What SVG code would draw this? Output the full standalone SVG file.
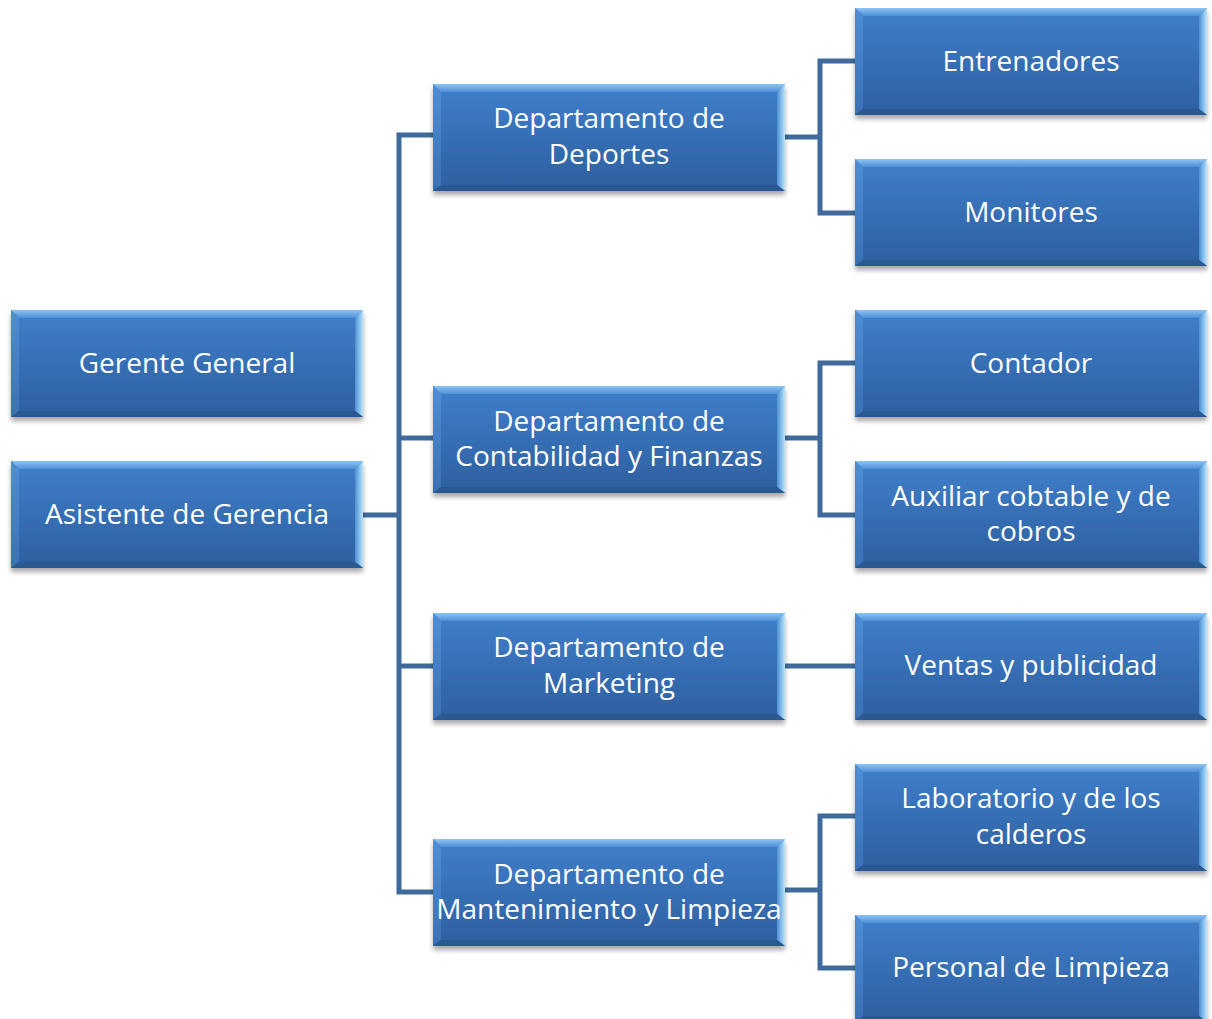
<svg xmlns="http://www.w3.org/2000/svg" xmlns:xlink="http://www.w3.org/1999/xlink" width="1212" height="1019" viewBox="0 0 1212 1019">
<style>
.t{font-family:"Open Sans","Liberation Sans",sans-serif;font-size:28px;fill:#ffffff;text-anchor:middle;dominant-baseline:central}
.c{stroke:#3f6a9c;stroke-width:5;fill:none;stroke-linejoin:miter;stroke-linecap:square}
</style>
<defs>
<linearGradient id="face" x1="0" y1="0" x2="0" y2="1">
<stop offset="0" stop-color="#3f7fcb"/>
<stop offset="1" stop-color="#2e5f9f"/>
</linearGradient>
<linearGradient id="topb" x1="0" y1="0" x2="0" y2="1">
<stop offset="0" stop-color="#8cc4f2"/>
<stop offset="1" stop-color="#4e8fd8"/>
</linearGradient>
<linearGradient id="leftb" x1="0" y1="0" x2="0" y2="1">
<stop offset="0" stop-color="#4f8ed6"/>
<stop offset="1" stop-color="#3a70b5"/>
</linearGradient>
<linearGradient id="rightb" x1="0" y1="0" x2="1" y2="0">
<stop offset="0" stop-color="#4d8fd6"/>
<stop offset="1" stop-color="#b8e6fb"/>
</linearGradient>
<filter id="sh" x="-5%" y="-10%" width="110%" height="130%">
<feGaussianBlur in="SourceAlpha" stdDeviation="2.5"/>
<feOffset dx="0" dy="4"/>
<feComponentTransfer><feFuncA type="linear" slope="0.35"/></feComponentTransfer>
<feMerge><feMergeNode/><feMergeNode in="SourceGraphic"/></feMerge>
</filter>
<symbol id="box" width="356" height="116" overflow="visible">
<g filter="url(#sh)">
<rect x="0" y="0" width="352" height="107" fill="url(#face)"/>
<polygon points="0,0 352,0 344,8 8,8" fill="url(#topb)"/>
<polygon points="0,0 8,8 8,101 0,107" fill="url(#leftb)"/>
<polygon points="352,0 352,107 344,101 344,8" fill="url(#rightb)"/>
<polygon points="0,107 8,101 344,101 352,107" fill="#2c5990"/>
</g>
</symbol>
</defs>
<g id="connectors">
<path class="c" d="M363,515 H399 M399,135 V892 M399,135 H433 M399,438 H433 M399,666 H433 M399,892 H433"/>
<path class="c" d="M786,137 H820 M820,61 V213 M820,61 H855 M820,213 H855"/>
<path class="c" d="M786,438 H820 M820,363 V515 M820,363 H855 M820,515 H855"/>
<path class="c" d="M786,666 H855"/>
<path class="c" d="M786,890 H820 M820,816 V968 M820,816 H855 M820,968 H855"/>
</g>
<g id="gerente"><use xlink:href="#box" x="11" y="310"/><text class="t" x="187" y="362">Gerente General</text></g>
<g id="asistente"><use xlink:href="#box" x="11" y="461"/><text class="t" x="187" y="513">Asistente de Gerencia</text></g>
<g id="deportes"><use xlink:href="#box" x="433" y="84"/><text class="t" x="609" y="117">Departamento de</text><text class="t" x="609" y="153">Deportes</text></g>
<g id="contabilidad"><use xlink:href="#box" x="433" y="386"/><text class="t" x="609" y="420">Departamento de</text><text class="t" x="609" y="455">Contabilidad y Finanzas</text></g>
<g id="marketing"><use xlink:href="#box" x="433" y="613"/><text class="t" x="609" y="646">Departamento de</text><text class="t" x="609" y="682">Marketing</text></g>
<g id="mantenimiento"><use xlink:href="#box" x="433" y="839"/><text class="t" x="609" y="873">Departamento de</text><text class="t" x="609" y="908">Mantenimiento y Limpieza</text></g>
<g id="entrenadores"><use xlink:href="#box" x="855" y="8"/><text class="t" x="1031" y="60">Entrenadores</text></g>
<g id="monitores"><use xlink:href="#box" x="855" y="159"/><text class="t" x="1031" y="211">Monitores</text></g>
<g id="contador"><use xlink:href="#box" x="855" y="310"/><text class="t" x="1031" y="362">Contador</text></g>
<g id="auxiliar"><use xlink:href="#box" x="855" y="461"/><text class="t" x="1031" y="495">Auxiliar cobtable y de</text><text class="t" x="1031" y="530">cobros</text></g>
<g id="ventas"><use xlink:href="#box" x="855" y="613"/><text class="t" x="1031" y="664">Ventas y publicidad</text></g>
<g id="laboratorio"><use xlink:href="#box" x="855" y="764"/><text class="t" x="1031" y="797">Laboratorio y de los</text><text class="t" x="1031" y="833">calderos</text></g>
<g id="personal"><use xlink:href="#box" x="855" y="915"/><text class="t" x="1031" y="966">Personal de Limpieza</text></g>
</svg>
